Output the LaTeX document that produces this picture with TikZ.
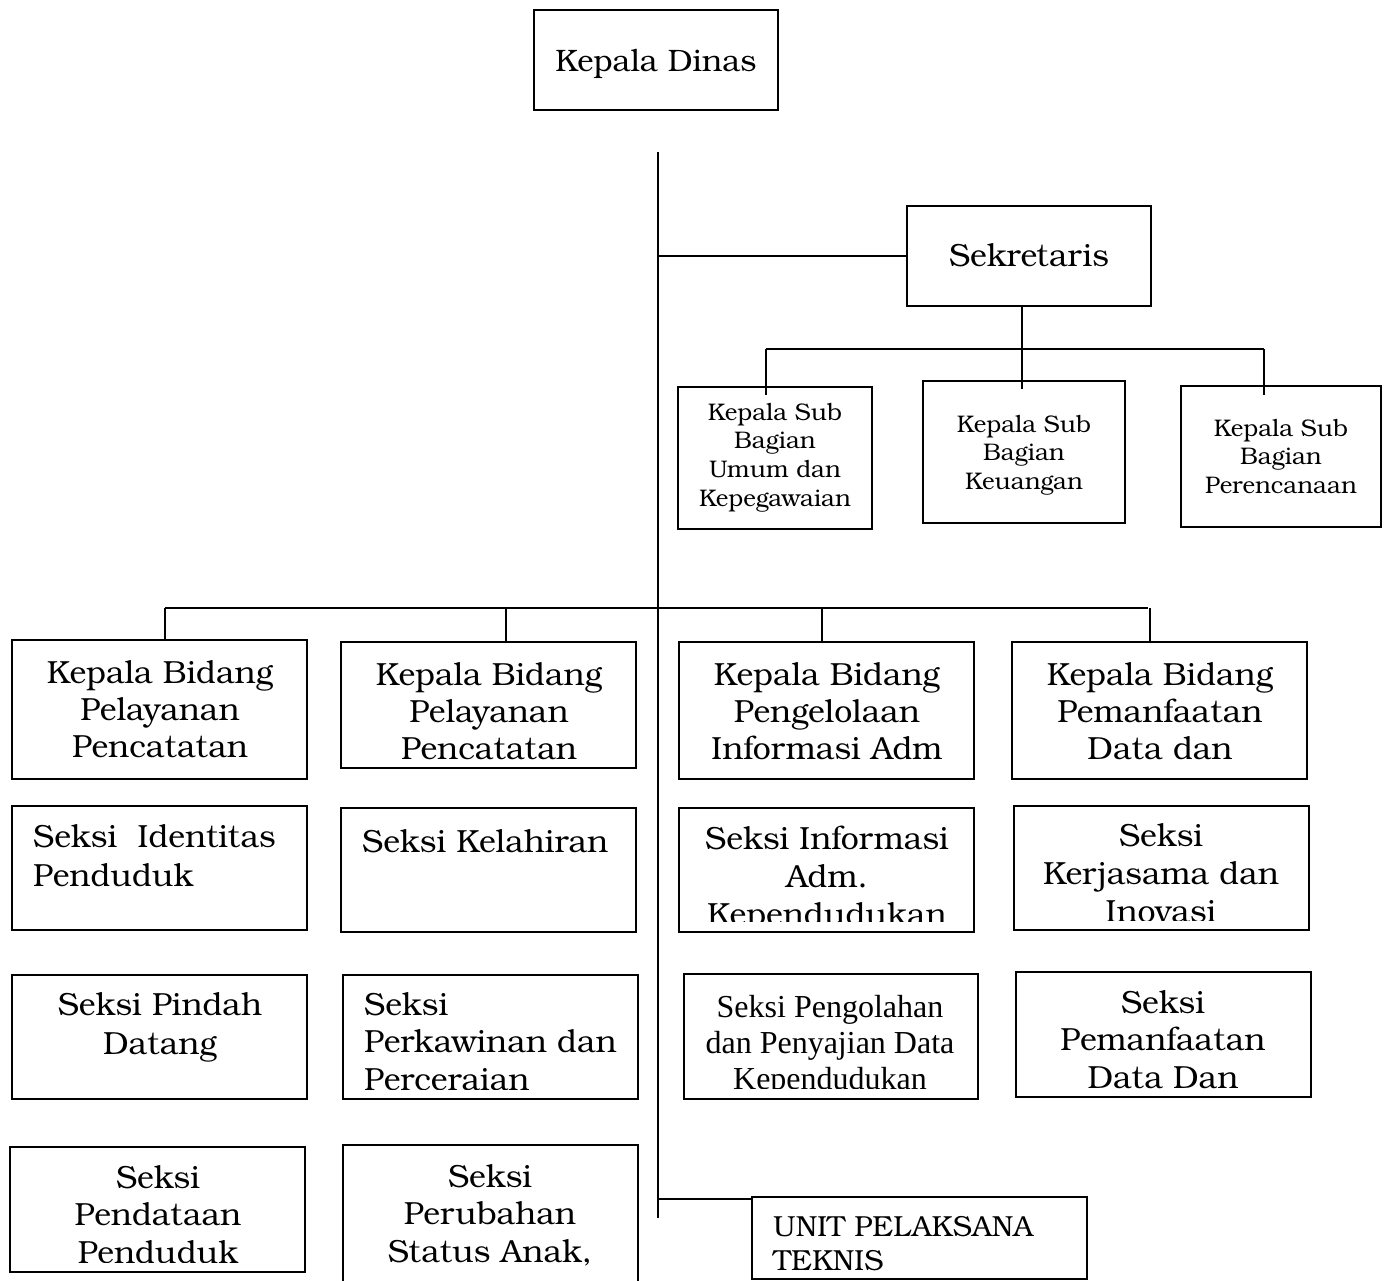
\documentclass[tikz,border=0pt]{standalone}
\usepackage{fontspec}
\newfontfamily\bk{texgyrebonum-regular.otf}
\newfontfamily\tms{Liberation Serif}
\usetikzlibrary{fit}
\newcommand\fs[2]{\fontsize{#1}{#2}\selectfont}
\begin{document}
\begin{tikzpicture}[x=1pt,y=-1pt,
  box/.style={draw, line width=1.6pt, inner sep=0pt},
  ln/.style={line width=1.6pt},
  txt/.style={inner sep=0pt, anchor=north, align=center},
  ltxt/.style={inner sep=0pt, anchor=north west, align=left},
]
\useasboundingbox (0,0) rectangle (1386,1281);

% ---------- boxes ----------
\node[box, fit={(534,10) (778,110)}] (kd) {};
\node[txt, font={\bk\fs{31}{37}}] (kdt) at (656,45.1) {\strut Kepala Dinas};

\node[box, fit={(907,206) (1151,306)}] (sek) {};
\node[txt, font={\bk\fs{32}{36}}] (sekt) at (1029,240.8) {\strut Sekretaris};

\node[box, fit={(678,387) (872,529)}] (u1) {};
\node[txt, font={\bk\fs{24}{28.7}}] (u1t) at (775,399.9) {\strut Kepala Sub\\Bagian\\Umum dan\\Kepegawaian};
\node[box, fit={(923,381) (1125,523)}] (u2) {};
\node[txt, font={\bk\fs{24}{28.7}}] (u2t) at (1024,411.9) {\strut Kepala Sub\\Bagian\\Keuangan};
\node[box, fit={(1181,386) (1381,527)}] (u3) {};
\node[txt, font={\bk\fs{24}{28.7}}] (u3t) at (1281,415.9) {\strut Kepala Sub\\Bagian\\Perencanaan};

% Kepala Bidang row
\node[box, fit={(12,640) (307,779)}] (b1) {};
\node[txt, font={\bk\fs{32}{37}}] (b1t) at (160,657.1) {\strut Kepala Bidang\\Pelayanan\\Pencatatan};
\node[box, fit={(341,642) (636,768)}] (b2) {};
\begin{scope}
\clip (341,642) rectangle (636,759);
\node[txt, font={\bk\fs{32}{37}}] (b2t) at (489,659.1) {\strut Kepala Bidang\\Pelayanan\\Pencatatan};
\end{scope}
\node[box, fit={(679,642) (974,779)}] (b3) {};
\node[txt, font={\bk\fs{32}{37}}] (b3t) at (827,659.1) {\strut Kepala Bidang\\Pengelolaan\\Informasi Adm};
\node[box, fit={(1012,642) (1307,779)}] (b4) {};
\node[txt, font={\bk\fs{32}{37}}] (b4t) at (1160,659.1) {\strut Kepala Bidang\\Pemanfaatan\\Data dan};

% Seksi row 1
\node[box, fit={(12,806) (307,930)}] (s1) {};
\node[ltxt, font={\bk\fs{32}{39}}] (s1t) at (33,819.7) {\strut Seksi~ Identitas\\Penduduk};
\node[box, fit={(341,808) (636,932)}] (s2) {};
\node[ltxt, font={\bk\fs{32}{39}}] (s2t) at (362,824.7) {\strut Seksi Kelahiran};
\node[box, fit={(679,808) (974,932)}] (s3) {};
\begin{scope}
\clip (679,808) rectangle (974,921);
\node[txt, font={\bk\fs{32}{38}}] (s3t) at (827,822.4) {\strut Seksi Informasi\\Adm.\\Kependudukan};
\end{scope}
\node[box, fit={(1014,806) (1309,930)}] (s4) {};
\begin{scope}
\clip (1014,806) rectangle (1309,920);
\node[txt, font={\bk\fs{32}{38}}] (s4t) at (1161,819.4) {\strut Seksi\\Kerjasama dan\\Inovasi};
\end{scope}

% Seksi row 2
\node[box, fit={(12,975) (307,1099)}] (s5) {};
\node[txt, font={\bk\fs{32}{39}}] (s5t) at (160,987.7) {\strut Seksi Pindah\\Datang};
\node[box, fit={(343,975) (638,1099)}] (s6) {};
\begin{scope}
\clip (343,975) rectangle (638,1089);
\node[ltxt, font={\bk\fs{32}{37.5}}] (s6t) at (364,988.75) {\strut Seksi\\Perkawinan dan\\Perceraian};
\end{scope}
\node[box, fit={(684,974) (978,1099)}] (s7) {};
\begin{scope}
\clip (684,974) rectangle (978,1088);
\node[txt, font={\tms\fs{32}{36}}] (s7t) at (830,991.8) {\strut Seksi Pengolahan\\dan Penyajian Data\\Kependudukan};
\end{scope}
\node[box, fit={(1016,972) (1311,1097)}] (s8) {};
\begin{scope}
\clip (1016,972) rectangle (1311,1088);
\node[txt, font={\bk\fs{32}{37.5}}] (s8t) at (1163,986.75) {\strut Seksi\\Pemanfaatan\\Data Dan};
\end{scope}

% Seksi row 3
\node[box, fit={(10,1147) (305,1272)}] (s9) {};
\begin{scope}
\clip (10,1147) rectangle (305,1262);
\node[txt, font={\bk\fs{32}{37.5}}] (s9t) at (158,1161.75) {\strut Seksi\\Pendataan\\Penduduk};
\end{scope}
\node[box, fit={(343,1145) (638,1300)}] (s10) {};
\node[txt, font={\bk\fs{32}{37.5}}] (s10t) at (490,1160.75) {\strut Seksi\\Perubahan\\Status Anak,};

\node[box, fit={(752,1197) (1087,1279)}] (unit) {};
\begin{scope}
\clip (752,1197) rectangle (1087,1270);
\node[ltxt, font={\bk\fs{29}{34}}] (unitt) at (773,1212.2) {\strut UNIT PELAKSANA\\TEKNIS};
\end{scope}

% ---------- connectors ----------
\coordinate (mtop) at (658,152);
\coordinate (mbot) at (658,1218);
\coordinate (jsek) at (658,256);
\coordinate (jbar) at (658,608);
\coordinate (junit) at (658,1199);
\draw[ln] (mtop) -- (mbot);
\draw[ln] (jsek) -- (sek.west);

% Sekretaris to sub-bagian
\coordinate (sdrop) at (1022,306);
\coordinate (sb) at (1022,349);
\coordinate (sbl) at (766,349);
\coordinate (sbr) at (1264,349);
\draw[ln] (sdrop) -- (sb);
\draw[ln] (sbl) -- (sbr);
\draw[ln] (sbl) -- (766,395);
\draw[ln] (sb) -- (1022,389);
\draw[ln] (sbr) -- (1264,395);

% Bidang bar
\coordinate (bl) at (165,608);
\coordinate (br) at (1148,608);
\draw[ln] (bl) -- (br);
\draw[ln] (bl) -- (165,640);
\draw[ln] (506,608) -- (506,642);
\draw[ln] (822,608) -- (822,642);
\draw[ln] (1150,608) -- (1150,642);

% UPT
\draw[ln] (junit) -- (unit.west |- junit);
\end{tikzpicture}
\end{document}
